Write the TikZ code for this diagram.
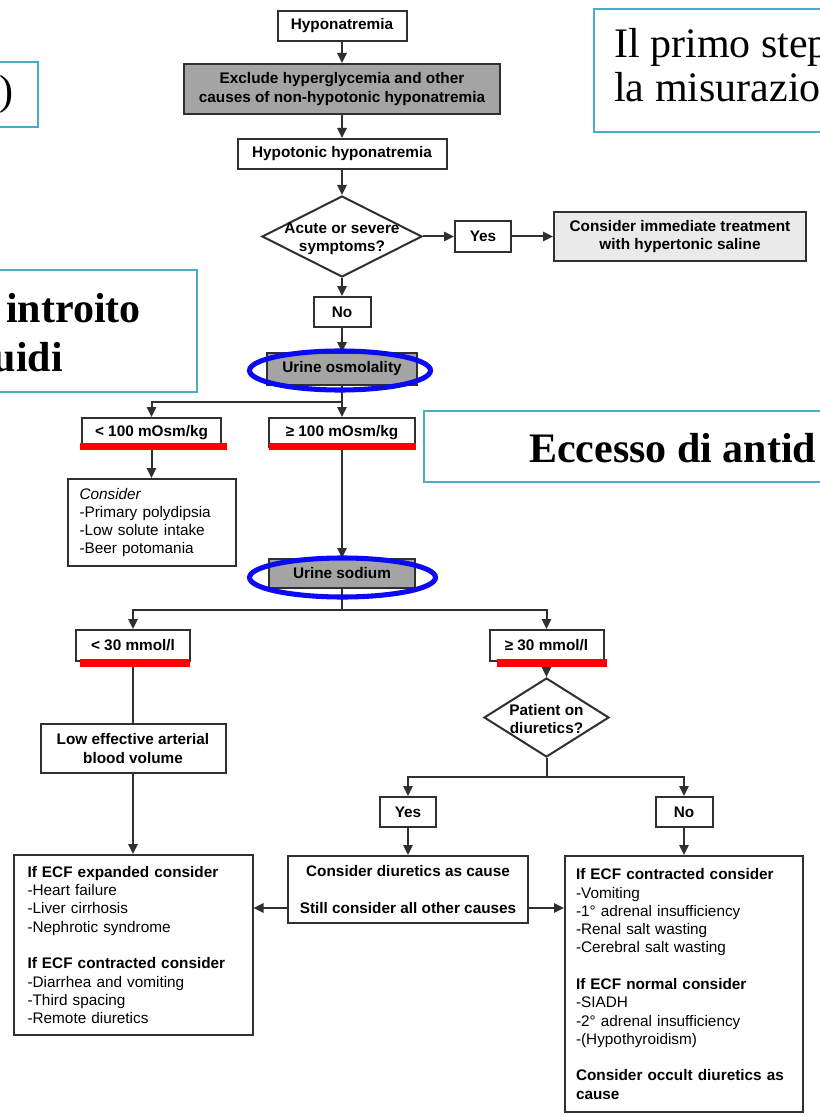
\documentclass[tikz,border=0pt]{standalone}
\usepackage{fontspec}
\setmainfont{Liberation Sans}
\newfontfamily\serifslide{Liberation Serif}
\usetikzlibrary{arrows.meta,shapes.geometric}
\newdimen\pxu \pxu=0.75pt
\definecolor{linec}{HTML}{303030}
\definecolor{darkfill}{HTML}{A4A4A4}
\definecolor{lightfill}{HTML}{EAEAEA}
\definecolor{slideblue}{HTML}{4BACC6}
\definecolor{ovalblue}{HTML}{0A0AF5}
\definecolor{barred}{HTML}{FF0000}
\begin{document}
\begin{tikzpicture}[x=0.75pt,y=-0.75pt,
  fbox/.style={rectangle, draw=linec, line width=1.5pt, fill=white, inner sep=0pt, align=center,
    font=\fontsize{11.5}{13.7}\selectfont\bfseries},
  lbox/.style={rectangle, draw=linec, line width=1.5pt, fill=white, inner sep=0pt, align=left,
    font=\fontsize{11.5}{13.7}\selectfont},
  dbox/.style={diamond, draw=linec, line width=1.5pt, fill=white, inner sep=0pt},
  dtext/.style={align=center, inner sep=0pt, font=\fontsize{11.5}{13.7}\selectfont\bfseries},
  arr/.style={draw=linec, line width=1.5pt, -{Triangle[length=7.5pt,width=7pt]}},
  conn/.style={draw=linec, line width=1.5pt},
  oval/.style={draw=ovalblue, line width=3.8pt},
  slidebox/.style={draw=slideblue, line width=1.5pt},
  slidetext/.style={inner sep=0pt, font=\serifslide\fontsize{31.5}{36}\selectfont},
  slidebold/.style={inner sep=0pt, font=\serifslide\bfseries\fontsize{31.5}{36}\selectfont},
]
\fill[white] (0,0) rectangle (819,1116);
\useasboundingbox (0,0) rectangle (819,1116);

% slide text boxes (cut by the page edge, as in the reference)
\draw[slidebox] (-200,62) rectangle (38,127);
\node[slidetext, anchor=base west] (paren) at (-1,105) {)};
\draw[slidebox] (594,9) rectangle (1100,132);
\node[slidetext, anchor=base west] (primo1) at (614,58) {Il primo step};
\node[slidetext, anchor=base west] (primo2) at (614,102) {la misurazio};
\draw[slidebox] (-200,270) rectangle (197,392);
\node[slidebold, anchor=base east] (intr1) at (141,322) {introito};
\node[slidebold, anchor=base east] (intr2) at (63,371) {uidi};
\draw[slidebox] (424,411) rectangle (1100,482);
\node[slidebold, anchor=base west] (ecc) at (529,462) {Eccesso di antid};

% flowchart nodes
\node[fbox, minimum width=129\pxu, minimum height=30\pxu] (hypo) at (342,26) {Hyponatremia};
\node[fbox, fill=darkfill, minimum width=316\pxu, minimum height=50\pxu] (excl) at (342,89) {Exclude hyperglycemia and other\\causes of non-hypotonic hyponatremia};
\node[fbox, minimum width=209\pxu, minimum height=30\pxu] (hypot) at (342,154) {Hypotonic hyponatremia};
\node[dbox, minimum width=160\pxu, minimum height=81\pxu] (acute) at (342,236.5) {};
\node[dtext] (acutet) at (342,239) {Acute or severe\\symptoms?};
\node[fbox, minimum width=56\pxu, minimum height=30\pxu] (yes1) at (483,236.5) {Yes};
\node[fbox, fill=lightfill, minimum width=252\pxu, minimum height=49\pxu] (treat) at (680,236.5) {Consider immediate treatment\\with hypertonic saline};
\node[fbox, minimum width=57\pxu, minimum height=30\pxu] (no1) at (342,312) {No};
\node[fbox, fill=darkfill, minimum width=150\pxu, minimum height=32\pxu] (osm) at (342,369) {Urine osmolality};
\node[fbox, minimum width=139\pxu, minimum height=29\pxu] (lt100) at (151.5,432.5) {< 100 mOsm/kg};
\node[fbox, minimum width=146\pxu, minimum height=29\pxu] (ge100) at (342,432.5) {≥ 100 mOsm/kg};
\node[lbox, minimum width=168\pxu, minimum height=87\pxu, text width=144\pxu] (cons) at (151.5,522.5)
  {\textit{Consider}\\-Primary polydipsia\\-Low solute intake\\-Beer potomania};
\node[fbox, fill=darkfill, minimum width=146\pxu, minimum height=29\pxu] (sod) at (342,573.5) {Urine sodium};
\node[fbox, minimum width=114\pxu, minimum height=31\pxu] (lt30) at (133,645.5) {< 30 mmol/l};
\node[fbox, minimum width=114\pxu, minimum height=31\pxu] (ge30) at (546.5,645.5) {≥ 30 mmol/l};
\node[dbox, minimum width=125\pxu, minimum height=79\pxu] (diur) at (546.5,717.5) {};
\node[dtext] (diurt) at (546.5,719) {Patient on\\diuretics?};
\node[fbox, minimum width=185\pxu, minimum height=49\pxu] (low) at (133,748.5) {Low effective arterial\\blood volume};
\node[fbox, minimum width=56\pxu, minimum height=30\pxu] (yes2) at (408,812) {Yes};
\node[fbox, minimum width=57\pxu, minimum height=30\pxu] (no2) at (684,812) {No};
\node[lbox, minimum width=239\pxu, minimum height=180\pxu, text width=211\pxu] (leftbox) at (133,945)
  {\textbf{If ECF expanded consider}\\-Heart failure\\-Liver cirrhosis\\-Nephrotic syndrome\\[13.7pt]
   \textbf{If ECF contracted consider}\\-Diarrhea and vomiting\\-Third spacing\\-Remote diuretics};
\node[fbox, minimum width=240\pxu, minimum height=67\pxu] (midbox) at (408,889.5)
  {Consider diuretics as cause\\[13.7pt]Still consider all other causes};
\node[lbox, minimum width=238\pxu, minimum height=256\pxu, text width=216\pxu] (rightbox) at (684,984)
  {\textbf{If ECF contracted consider}\\-Vomiting\\-1° adrenal insufficiency\\-Renal salt wasting\\-Cerebral salt wasting\\[13.7pt]
   \textbf{If ECF normal consider}\\-SIADH\\-2° adrenal insufficiency\\-(Hypothyroidism)\\[13.7pt]
   \textbf{Consider occult diuretics as}\\\textbf{cause}};

% junction coordinates
\coordinate (j1) at (342,402);
\coordinate (j2) at (342,610);
\coordinate (j3) at (546.5,777);
\coordinate (ymid) at (0,908);
\coordinate (ge30bar) at (546.5,667);

% red underline bars
\fill[barred] (80,443) rectangle (227,450);
\fill[barred] (269,443) rectangle (416,450);
\fill[barred] (80,659) rectangle (190,667);
\fill[barred] (497,659) rectangle (607,667);

% connectors
\draw[arr] (hypo.south) -- (excl.north);
\draw[arr] (excl.south) -- (hypot.north);
\draw[arr] (hypot.south) -- (acute.north);
\draw[arr] (acute.east) -- (yes1.west);
\draw[arr] (yes1.east) -- (treat.west);
\draw[arr] (acute.south) -- (no1.north);
\draw[arr] (no1.south) -- (osm.north);
\draw[conn] (osm.south) -- (j1);
\draw[arr] (j1) -| (lt100.north);
\draw[arr] (j1) -- (ge100.north);
\draw[arr] (lt100.south |- 0,450) -- (cons.north);
\draw[arr] (ge100.south |- 0,450) -- (sod.north);
\draw[conn] (sod.south) -- (j2);
\draw[arr] (j2) -| (lt30.north);
\draw[arr] (j2) -| (ge30.north);
\draw[conn] (lt30.south |- 0,667) -- (low.north);
\draw[arr] (low.south) -- (leftbox.north);
\draw[arr] (ge30bar) -- (diur.north);
\draw[conn] (diur.south) -- (j3);
\draw[arr] (j3) -| (yes2.north);
\draw[arr] (j3) -| (no2.north);
\draw[arr] (yes2.south) -- (midbox.north);
\draw[arr] (no2.south) -- (rightbox.north);
\draw[arr] (midbox.west |- ymid) -- (leftbox.east |- ymid);
\draw[arr] (midbox.east |- ymid) -- (rightbox.west |- ymid);

% blue ovals
\draw[oval] (340,370.5) ellipse [x radius=90.5\pxu, y radius=19.5\pxu];
\draw[oval] (342.5,577.5) ellipse [x radius=93\pxu, y radius=19.5\pxu];
\end{tikzpicture}
\end{document}
